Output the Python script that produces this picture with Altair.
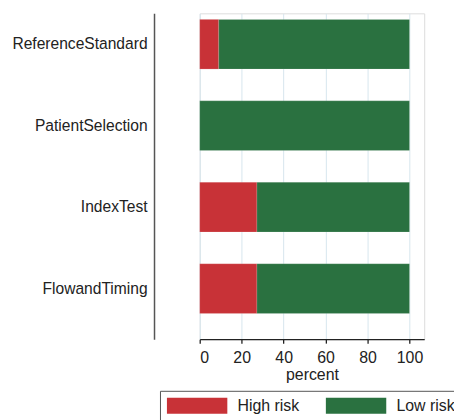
import altair as alt
import pandas as pd

categories = ["ReferenceStandard", "PatientSelection", "IndexTest", "FlowandTiming"]
high_risk = [9.09, 0.0, 27.27, 27.27]
low_risk = [90.91, 100.0, 72.73, 72.73]
risk_levels = ["High risk", "Low risk"]
risk_colors = ["#c83237", "#2a7140"]
x_ticks = [0, 20, 40, 60, 80, 100]

rows = []
for c, h, l in zip(categories, high_risk, low_risk):
    rows.append({"domain": c, "risk": risk_levels[0], "percent": h, "k": 0})
    rows.append({"domain": c, "risk": risk_levels[1], "percent": l, "k": 1})
df = pd.DataFrame(rows)

FONT = "Liberation Sans"

chart = alt.Chart(df).mark_bar(stroke="#ffffff", strokeOpacity=0.25, strokeWidth=0.6).encode(
    y=alt.Y(
        "domain:N",
        sort=categories,
        title=None,
        scale=alt.Scale(paddingInner=0.39, paddingOuter=0.195, align=0.19),
        axis=alt.Axis(
            offset=46, ticks=False, labelPadding=7, domainColor="#555555",
            domainWidth=1.5, labelFontSize=15.7, labelColor="#222222",
            labelFont=FONT, grid=False,
        ),
    ),
    x=alt.X(
        "percent:Q",
        stack="zero",
        title="percent",
        scale=alt.Scale(domain=[0, 107], nice=False),
        axis=alt.Axis(
            values=x_ticks, grid=True, gridColor="#d7e6ee", gridWidth=1,
            domainColor="#222222", domainWidth=1.3, tickColor="#222222",
            tickSize=4, tickWidth=1.3, labelFontSize=16, labelColor="#222222",
            labelFont=FONT, labelPadding=7, titleFont=FONT, titleFontSize=16,
            titleFontWeight="normal", titleColor="#222222", titlePadding=1,
        ),
    ),
    color=alt.Color(
        "risk:N",
        scale=alt.Scale(domain=risk_levels, range=risk_colors),
        legend=alt.Legend(
            title=None, orient="none", legendX=-40, legendY=380,
            direction="horizontal", strokeColor="#555555", padding=7,
            symbolType="M-1,-1H6.6V1H-1Z", symbolSize=256,
            symbolStrokeWidth=0, symbolOpacity=1, labelFont=FONT,
            labelFontSize=16, labelColor="#222222", labelOffset=55,
            columnPadding=26,
        ),
    ),
    order=alt.Order("k:Q"),
).properties(
    width=226,
    height=328,
    autosize=alt.AutoSizeParams(type="none"),
    padding={"left": 193, "top": 4, "right": 30, "bottom": 80},
).configure_view(strokeWidth=0).configure(background="#ffffff")

chart.save("out.html", embed_options={"renderer": "svg", "actions": False})
